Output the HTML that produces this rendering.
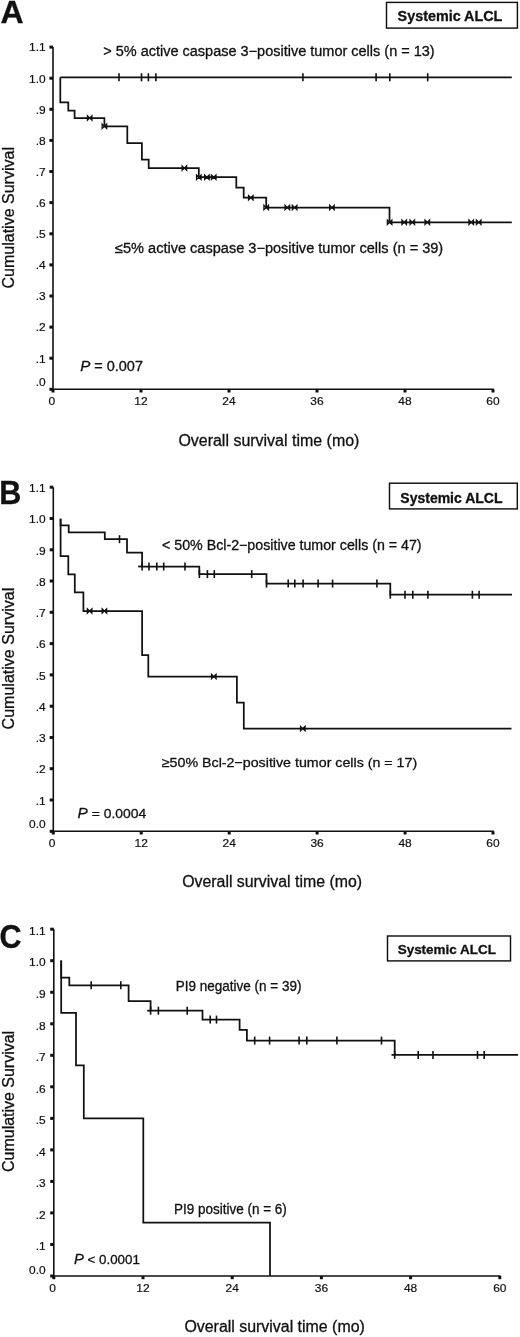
<!DOCTYPE html>
<html><head><meta charset="utf-8"><title>Kaplan-Meier survival curves</title>
<style>
html,body{margin:0;padding:0;background:#fff;}
body{width:520px;height:1337px;overflow:hidden;}
svg{display:block;will-change:transform;}
text{font-family:"Liberation Sans", sans-serif;fill:#111;stroke:#111;stroke-width:0.3px;}
</style></head>
<body>
<svg width="520" height="1337" viewBox="0 0 520 1337">
<rect width="520" height="1337" fill="#fff"/>
<text transform="translate(0.6,22.8) scale(1.0,1.0)" font-size="32" font-weight="bold">A</text>
<rect x="386.5" y="2.4" width="130.89999999999998" height="25.700000000000003" fill="none" stroke="#111" stroke-width="1.45"/>
<text x="397.6" y="21.4" font-size="14.6" font-weight="bold" text-anchor="start" textLength="104.8" lengthAdjust="spacingAndGlyphs" >Systemic ALCL</text>
<line x1="53.0" y1="47.1" x2="53.0" y2="389.3" stroke="#111" stroke-width="1.6"/>
<line x1="52.2" y1="389.3" x2="493.8" y2="389.3" stroke="#111" stroke-width="1.6"/>
<rect x="49.4" y="45.6" width="3.6" height="3.0" fill="#111"/>
<text transform="translate(45.6,51.4) scale(1.03,1)" font-size="11.6" text-anchor="end" style="stroke-width:0.2px">1.1</text>
<rect x="49.4" y="76.7" width="3.6" height="3.0" fill="#111"/>
<text transform="translate(45.6,82.5) scale(1.03,1)" font-size="11.6" text-anchor="end" style="stroke-width:0.2px">1.0</text>
<rect x="49.4" y="107.8" width="3.6" height="3.0" fill="#111"/>
<text transform="translate(45.6,113.6) scale(1.03,1)" font-size="11.6" text-anchor="end" style="stroke-width:0.2px">.9</text>
<rect x="49.4" y="138.9" width="3.6" height="3.0" fill="#111"/>
<text transform="translate(45.6,144.7) scale(1.03,1)" font-size="11.6" text-anchor="end" style="stroke-width:0.2px">.8</text>
<rect x="49.4" y="170.0" width="3.6" height="3.0" fill="#111"/>
<text transform="translate(45.6,175.8) scale(1.03,1)" font-size="11.6" text-anchor="end" style="stroke-width:0.2px">.7</text>
<rect x="49.4" y="201.1" width="3.6" height="3.0" fill="#111"/>
<text transform="translate(45.6,206.9) scale(1.03,1)" font-size="11.6" text-anchor="end" style="stroke-width:0.2px">.6</text>
<rect x="49.4" y="232.3" width="3.6" height="3.0" fill="#111"/>
<text transform="translate(45.6,238.1) scale(1.03,1)" font-size="11.6" text-anchor="end" style="stroke-width:0.2px">.5</text>
<rect x="49.4" y="263.4" width="3.6" height="3.0" fill="#111"/>
<text transform="translate(45.6,269.2) scale(1.03,1)" font-size="11.6" text-anchor="end" style="stroke-width:0.2px">.4</text>
<rect x="49.4" y="294.5" width="3.6" height="3.0" fill="#111"/>
<text transform="translate(45.6,300.3) scale(1.03,1)" font-size="11.6" text-anchor="end" style="stroke-width:0.2px">.3</text>
<rect x="49.4" y="325.6" width="3.6" height="3.0" fill="#111"/>
<text transform="translate(45.6,331.4) scale(1.03,1)" font-size="11.6" text-anchor="end" style="stroke-width:0.2px">.2</text>
<rect x="49.4" y="356.7" width="3.6" height="3.0" fill="#111"/>
<text transform="translate(45.6,362.5) scale(1.03,1)" font-size="11.6" text-anchor="end" style="stroke-width:0.2px">.1</text>
<rect x="49.4" y="387.8" width="3.6" height="3.0" fill="#111"/>
<text transform="translate(45.6,385.6) scale(1.03,1)" font-size="11.6" text-anchor="end" style="stroke-width:0.2px">.0</text>
<rect x="51.5" y="389.3" width="3" height="3.2" fill="#111"/>
<text transform="translate(51.8,404.7) scale(1.03,1)" font-size="11.6" text-anchor="middle" style="stroke-width:0.2px">0</text>
<rect x="139.5" y="389.3" width="3" height="3.2" fill="#111"/>
<text transform="translate(141.0,404.7) scale(1.03,1)" font-size="11.6" text-anchor="middle" style="stroke-width:0.2px">12</text>
<rect x="227.5" y="389.3" width="3" height="3.2" fill="#111"/>
<text transform="translate(229.0,404.7) scale(1.03,1)" font-size="11.6" text-anchor="middle" style="stroke-width:0.2px">24</text>
<rect x="315.5" y="389.3" width="3" height="3.2" fill="#111"/>
<text transform="translate(317.0,404.7) scale(1.03,1)" font-size="11.6" text-anchor="middle" style="stroke-width:0.2px">36</text>
<rect x="403.5" y="389.3" width="3" height="3.2" fill="#111"/>
<text transform="translate(405.0,404.7) scale(1.03,1)" font-size="11.6" text-anchor="middle" style="stroke-width:0.2px">48</text>
<rect x="491.5" y="389.3" width="3" height="3.2" fill="#111"/>
<text transform="translate(493.0,404.7) scale(1.03,1)" font-size="11.6" text-anchor="middle" style="stroke-width:0.2px">60</text>
<text x="0" y="0" font-size="16" text-anchor="middle" textLength="141.5" lengthAdjust="spacingAndGlyphs" transform="translate(13.6,217.8) rotate(-90)">Cumulative Survival</text>
<text x="178.4" y="445.6" font-size="16" font-weight="normal" text-anchor="start" textLength="181.0" lengthAdjust="spacingAndGlyphs" >Overall survival time (mo)</text>
<text x="80.2" y="371.3" font-size="14" font-weight="normal" text-anchor="start" textLength="62.8" lengthAdjust="spacingAndGlyphs" ><tspan font-style="italic" font-size="14.6">P</tspan> = 0.007</text>
<text x="103.2" y="55.8" font-size="14" font-weight="normal" text-anchor="start" textLength="331.5" lengthAdjust="spacingAndGlyphs" >&gt; 5% active caspase 3&#8722;positive tumor cells (n = 13)</text>
<text x="115.0" y="253.0" font-size="14" font-weight="normal" text-anchor="start" textLength="328.2" lengthAdjust="spacingAndGlyphs" >&#8804;5% active caspase 3&#8722;positive tumor cells (n = 39)</text>
<path d="M60.3,77.3 L511.8,77.3" fill="none" stroke="#111" stroke-width="1.75" stroke-linejoin="miter" stroke-linecap="butt"/>
<line x1="119.0" y1="73.3" x2="119.0" y2="81.3" stroke="#111" stroke-width="1.6"/>
<line x1="141.5" y1="73.3" x2="141.5" y2="81.3" stroke="#111" stroke-width="1.6"/>
<line x1="148.4" y1="73.3" x2="148.4" y2="81.3" stroke="#111" stroke-width="1.6"/>
<line x1="155.9" y1="73.3" x2="155.9" y2="81.3" stroke="#111" stroke-width="1.6"/>
<line x1="302.9" y1="73.3" x2="302.9" y2="81.3" stroke="#111" stroke-width="1.6"/>
<line x1="376.1" y1="73.3" x2="376.1" y2="81.3" stroke="#111" stroke-width="1.6"/>
<line x1="389.8" y1="73.3" x2="389.8" y2="81.3" stroke="#111" stroke-width="1.6"/>
<line x1="427.7" y1="73.3" x2="427.7" y2="81.3" stroke="#111" stroke-width="1.6"/>
<path d="M60.3,77.3 L60.3,102.3 L68.3,102.3 L68.3,110.6 L74.6,110.6 L74.6,118.0 L104.4,118.0 L104.4,126.3 L127.3,126.3 L127.3,143.0 L141.9,143.0 L141.9,159.6 L148.7,159.6 L148.7,168.1 L198.8,168.1 L198.8,177.2 L236.3,177.2 L236.3,187.5 L243.7,187.5 L243.7,197.7 L266.2,197.7 L266.2,207.5 L389.5,207.5 L389.5,222.3 L511.8,222.3" fill="none" stroke="#111" stroke-width="1.75" stroke-linejoin="miter" stroke-linecap="butt"/>
<path d="M87.4,115.7 L92.0,120.3 L92.0,115.7 L87.4,120.3 Z" stroke="#111" stroke-width="1.2" fill="#111" fill-opacity="0.35" stroke-linejoin="miter"/>
<path d="M102.1,124.0 L106.7,128.6 L106.7,124.0 L102.1,128.6 Z" stroke="#111" stroke-width="1.2" fill="#111" fill-opacity="0.35" stroke-linejoin="miter"/>
<path d="M182.1,165.8 L186.7,170.4 L186.7,165.8 L182.1,170.4 Z" stroke="#111" stroke-width="1.2" fill="#111" fill-opacity="0.35" stroke-linejoin="miter"/>
<path d="M196.5,174.9 L201.1,179.5 L201.1,174.9 L196.5,179.5 Z" stroke="#111" stroke-width="1.2" fill="#111" fill-opacity="0.35" stroke-linejoin="miter"/>
<path d="M204.6,174.9 L209.2,179.5 L209.2,174.9 L204.6,179.5 Z" stroke="#111" stroke-width="1.2" fill="#111" fill-opacity="0.35" stroke-linejoin="miter"/>
<path d="M211.4,174.9 L216.0,179.5 L216.0,174.9 L211.4,179.5 Z" stroke="#111" stroke-width="1.2" fill="#111" fill-opacity="0.35" stroke-linejoin="miter"/>
<path d="M248.5,195.4 L253.1,200.0 L253.1,195.4 L248.5,200.0 Z" stroke="#111" stroke-width="1.2" fill="#111" fill-opacity="0.35" stroke-linejoin="miter"/>
<path d="M263.9,205.2 L268.5,209.8 L268.5,205.2 L263.9,209.8 Z" stroke="#111" stroke-width="1.2" fill="#111" fill-opacity="0.35" stroke-linejoin="miter"/>
<path d="M285.0,205.2 L289.6,209.8 L289.6,205.2 L285.0,209.8 Z" stroke="#111" stroke-width="1.2" fill="#111" fill-opacity="0.35" stroke-linejoin="miter"/>
<path d="M292.3,205.2 L296.9,209.8 L296.9,205.2 L292.3,209.8 Z" stroke="#111" stroke-width="1.2" fill="#111" fill-opacity="0.35" stroke-linejoin="miter"/>
<path d="M329.6,205.2 L334.2,209.8 L334.2,205.2 L329.6,209.8 Z" stroke="#111" stroke-width="1.2" fill="#111" fill-opacity="0.35" stroke-linejoin="miter"/>
<path d="M387.3,220.0 L391.9,224.6 L391.9,220.0 L387.3,224.6 Z" stroke="#111" stroke-width="1.2" fill="#111" fill-opacity="0.35" stroke-linejoin="miter"/>
<path d="M401.9,220.0 L406.5,224.6 L406.5,220.0 L401.9,224.6 Z" stroke="#111" stroke-width="1.2" fill="#111" fill-opacity="0.35" stroke-linejoin="miter"/>
<path d="M410.0,220.0 L414.6,224.6 L414.6,220.0 L410.0,224.6 Z" stroke="#111" stroke-width="1.2" fill="#111" fill-opacity="0.35" stroke-linejoin="miter"/>
<path d="M425.0,220.0 L429.6,224.6 L429.6,220.0 L425.0,224.6 Z" stroke="#111" stroke-width="1.2" fill="#111" fill-opacity="0.35" stroke-linejoin="miter"/>
<path d="M468.9,220.0 L473.5,224.6 L473.5,220.0 L468.9,224.6 Z" stroke="#111" stroke-width="1.2" fill="#111" fill-opacity="0.35" stroke-linejoin="miter"/>
<path d="M476.4,220.0 L481.0,224.6 L481.0,220.0 L476.4,224.6 Z" stroke="#111" stroke-width="1.2" fill="#111" fill-opacity="0.35" stroke-linejoin="miter"/>
<text transform="translate(-0.8,503.5) scale(1.02,1.085)" font-size="30" font-weight="bold">B</text>
<rect x="389.5" y="483.2" width="127.79999999999995" height="25.69999999999999" fill="none" stroke="#111" stroke-width="1.45"/>
<text x="400.3" y="502.7" font-size="14.2" font-weight="bold" text-anchor="start" textLength="102.2" lengthAdjust="spacingAndGlyphs" >Systemic ALCL</text>
<line x1="53.3" y1="487.2" x2="53.3" y2="831.3" stroke="#111" stroke-width="1.6"/>
<line x1="52.5" y1="831.3" x2="493.8" y2="831.3" stroke="#111" stroke-width="1.6"/>
<rect x="49.7" y="485.7" width="3.6" height="3.0" fill="#111"/>
<text transform="translate(45.6,491.9) scale(1.03,1)" font-size="11.6" text-anchor="end" style="stroke-width:0.2px">1.1</text>
<rect x="49.7" y="517.0" width="3.6" height="3.0" fill="#111"/>
<text transform="translate(45.6,523.2) scale(1.03,1)" font-size="11.6" text-anchor="end" style="stroke-width:0.2px">1.0</text>
<rect x="49.7" y="548.3" width="3.6" height="3.0" fill="#111"/>
<text transform="translate(45.6,554.5) scale(1.03,1)" font-size="11.6" text-anchor="end" style="stroke-width:0.2px">.9</text>
<rect x="49.7" y="579.5" width="3.6" height="3.0" fill="#111"/>
<text transform="translate(45.6,585.7) scale(1.03,1)" font-size="11.6" text-anchor="end" style="stroke-width:0.2px">.8</text>
<rect x="49.7" y="610.8" width="3.6" height="3.0" fill="#111"/>
<text transform="translate(45.6,617.0) scale(1.03,1)" font-size="11.6" text-anchor="end" style="stroke-width:0.2px">.7</text>
<rect x="49.7" y="642.1" width="3.6" height="3.0" fill="#111"/>
<text transform="translate(45.6,648.3) scale(1.03,1)" font-size="11.6" text-anchor="end" style="stroke-width:0.2px">.6</text>
<rect x="49.7" y="673.4" width="3.6" height="3.0" fill="#111"/>
<text transform="translate(45.6,679.6) scale(1.03,1)" font-size="11.6" text-anchor="end" style="stroke-width:0.2px">.5</text>
<rect x="49.7" y="704.7" width="3.6" height="3.0" fill="#111"/>
<text transform="translate(45.6,710.9) scale(1.03,1)" font-size="11.6" text-anchor="end" style="stroke-width:0.2px">.4</text>
<rect x="49.7" y="736.0" width="3.6" height="3.0" fill="#111"/>
<text transform="translate(45.6,742.2) scale(1.03,1)" font-size="11.6" text-anchor="end" style="stroke-width:0.2px">.3</text>
<rect x="49.7" y="767.2" width="3.6" height="3.0" fill="#111"/>
<text transform="translate(45.6,773.4) scale(1.03,1)" font-size="11.6" text-anchor="end" style="stroke-width:0.2px">.2</text>
<rect x="49.7" y="798.5" width="3.6" height="3.0" fill="#111"/>
<text transform="translate(45.6,804.7) scale(1.03,1)" font-size="11.6" text-anchor="end" style="stroke-width:0.2px">.1</text>
<rect x="49.7" y="829.8" width="3.6" height="3.0" fill="#111"/>
<text transform="translate(45.6,828.0) scale(1.03,1)" font-size="11.6" text-anchor="end" style="stroke-width:0.2px">0.0</text>
<rect x="51.8" y="831.3" width="3" height="3.2" fill="#111"/>
<text transform="translate(52.1,846.9) scale(1.03,1)" font-size="11.6" text-anchor="middle" style="stroke-width:0.2px">0</text>
<rect x="139.7" y="831.3" width="3" height="3.2" fill="#111"/>
<text transform="translate(141.2,846.9) scale(1.03,1)" font-size="11.6" text-anchor="middle" style="stroke-width:0.2px">12</text>
<rect x="227.7" y="831.3" width="3" height="3.2" fill="#111"/>
<text transform="translate(229.2,846.9) scale(1.03,1)" font-size="11.6" text-anchor="middle" style="stroke-width:0.2px">24</text>
<rect x="315.6" y="831.3" width="3" height="3.2" fill="#111"/>
<text transform="translate(317.1,846.9) scale(1.03,1)" font-size="11.6" text-anchor="middle" style="stroke-width:0.2px">36</text>
<rect x="403.6" y="831.3" width="3" height="3.2" fill="#111"/>
<text transform="translate(405.1,846.9) scale(1.03,1)" font-size="11.6" text-anchor="middle" style="stroke-width:0.2px">48</text>
<rect x="491.5" y="831.3" width="3" height="3.2" fill="#111"/>
<text transform="translate(493.0,846.9) scale(1.03,1)" font-size="11.6" text-anchor="middle" style="stroke-width:0.2px">60</text>
<text x="0" y="0" font-size="16" text-anchor="middle" textLength="141.6" lengthAdjust="spacingAndGlyphs" transform="translate(13.7,658.6) rotate(-90)">Cumulative Survival</text>
<text x="182.2" y="887.4" font-size="16" font-weight="normal" text-anchor="start" textLength="179.8" lengthAdjust="spacingAndGlyphs" >Overall survival time (mo)</text>
<text x="77.6" y="818.2" font-size="13.2" font-weight="normal" text-anchor="start" textLength="68.6" lengthAdjust="spacingAndGlyphs" ><tspan font-style="italic" font-size="14.6">P</tspan> = 0.0004</text>
<text x="162.0" y="549.5" font-size="14" font-weight="normal" text-anchor="start" textLength="259.6" lengthAdjust="spacingAndGlyphs" >&lt; 50% Bcl-2&#8722;positive tumor cells (n = 47)</text>
<text x="161.8" y="766.6" font-size="13.5" font-weight="normal" text-anchor="start" textLength="255.4" lengthAdjust="spacingAndGlyphs" >&#8805;50% Bcl-2&#8722;positive tumor cells (n = 17)</text>
<path d="M60.6,518.7 L60.6,525.4 L68.7,525.4 L68.7,532.4 L104.8,532.4 L104.8,539.2 L127.0,539.2 L127.0,552.5 L142.1,552.5 L142.1,566.5 L199.3,566.5 L199.3,574.1 L266.5,574.1 L266.5,583.6 L390.3,583.6 L390.3,594.7 L512.0,594.7" fill="none" stroke="#111" stroke-width="1.75" stroke-linejoin="miter" stroke-linecap="butt"/>
<path d="M138.1,566.5 L142.1,566.5" fill="none" stroke="#111" stroke-width="1.75" stroke-linejoin="miter" stroke-linecap="butt"/>
<line x1="119.5" y1="535.2" x2="119.5" y2="543.2" stroke="#111" stroke-width="1.6"/>
<line x1="142.1" y1="562.5" x2="142.1" y2="570.5" stroke="#111" stroke-width="1.6"/>
<line x1="149.0" y1="562.5" x2="149.0" y2="570.5" stroke="#111" stroke-width="1.6"/>
<line x1="156.8" y1="562.5" x2="156.8" y2="570.5" stroke="#111" stroke-width="1.6"/>
<line x1="163.7" y1="562.5" x2="163.7" y2="570.5" stroke="#111" stroke-width="1.6"/>
<line x1="185.0" y1="562.5" x2="185.0" y2="570.5" stroke="#111" stroke-width="1.6"/>
<line x1="199.4" y1="570.1" x2="199.4" y2="578.1" stroke="#111" stroke-width="1.6"/>
<line x1="207.4" y1="570.1" x2="207.4" y2="578.1" stroke="#111" stroke-width="1.6"/>
<line x1="214.3" y1="570.1" x2="214.3" y2="578.1" stroke="#111" stroke-width="1.6"/>
<line x1="251.7" y1="570.1" x2="251.7" y2="578.1" stroke="#111" stroke-width="1.6"/>
<line x1="266.5" y1="579.6" x2="266.5" y2="587.6" stroke="#111" stroke-width="1.6"/>
<line x1="288.2" y1="579.6" x2="288.2" y2="587.6" stroke="#111" stroke-width="1.6"/>
<line x1="294.8" y1="579.6" x2="294.8" y2="587.6" stroke="#111" stroke-width="1.6"/>
<line x1="303.1" y1="579.6" x2="303.1" y2="587.6" stroke="#111" stroke-width="1.6"/>
<line x1="318.1" y1="579.6" x2="318.1" y2="587.6" stroke="#111" stroke-width="1.6"/>
<line x1="332.6" y1="579.6" x2="332.6" y2="587.6" stroke="#111" stroke-width="1.6"/>
<line x1="376.9" y1="579.6" x2="376.9" y2="587.6" stroke="#111" stroke-width="1.6"/>
<line x1="390.3" y1="590.7" x2="390.3" y2="598.7" stroke="#111" stroke-width="1.6"/>
<line x1="405.0" y1="590.7" x2="405.0" y2="598.7" stroke="#111" stroke-width="1.6"/>
<line x1="412.8" y1="590.7" x2="412.8" y2="598.7" stroke="#111" stroke-width="1.6"/>
<line x1="427.9" y1="590.7" x2="427.9" y2="598.7" stroke="#111" stroke-width="1.6"/>
<line x1="472.4" y1="590.7" x2="472.4" y2="598.7" stroke="#111" stroke-width="1.6"/>
<line x1="479.1" y1="590.7" x2="479.1" y2="598.7" stroke="#111" stroke-width="1.6"/>
<path d="M60.6,518.7 L60.6,556.2 L68.3,556.2 L68.3,574.4 L74.8,574.4 L74.8,592.3 L83.4,592.3 L83.4,611.0 L142.1,611.0 L142.1,655.0 L148.3,655.0 L148.3,676.5 L236.9,676.5 L236.9,702.7 L243.8,702.7 L243.8,728.6 L511.5,728.6" fill="none" stroke="#111" stroke-width="1.75" stroke-linejoin="miter" stroke-linecap="butt"/>
<path d="M87.3,608.7 L91.9,613.3 L91.9,608.7 L87.3,613.3 Z" stroke="#111" stroke-width="1.2" fill="#111" fill-opacity="0.35" stroke-linejoin="miter"/>
<path d="M102.1,608.7 L106.7,613.3 L106.7,608.7 L102.1,613.3 Z" stroke="#111" stroke-width="1.2" fill="#111" fill-opacity="0.35" stroke-linejoin="miter"/>
<path d="M211.5,674.2 L216.1,678.8 L216.1,674.2 L211.5,678.8 Z" stroke="#111" stroke-width="1.2" fill="#111" fill-opacity="0.35" stroke-linejoin="miter"/>
<path d="M300.5,726.3 L305.1,730.9 L305.1,726.3 L300.5,730.9 Z" stroke="#111" stroke-width="1.2" fill="#111" fill-opacity="0.35" stroke-linejoin="miter"/>
<text transform="translate(-0.6,947.6) scale(1.0,1.08)" font-size="30.5" font-weight="bold">C</text>
<rect x="387.5" y="936.0" width="123.0" height="24.899999999999977" fill="none" stroke="#111" stroke-width="1.45"/>
<text x="397.7" y="954.0" font-size="13" font-weight="bold" text-anchor="start" textLength="98.2" lengthAdjust="spacingAndGlyphs" >Systemic ALCL</text>
<line x1="53.8" y1="929.2" x2="53.8" y2="1276.0" stroke="#111" stroke-width="1.6"/>
<line x1="53.0" y1="1276.0" x2="500.6" y2="1276.0" stroke="#111" stroke-width="1.6"/>
<rect x="50.2" y="927.7" width="3.6" height="3.0" fill="#111"/>
<text transform="translate(45.6,934.9) scale(1.03,1)" font-size="11.6" text-anchor="end" style="stroke-width:0.2px">1.1</text>
<rect x="50.2" y="959.2" width="3.6" height="3.0" fill="#111"/>
<text transform="translate(45.6,966.4) scale(1.03,1)" font-size="11.6" text-anchor="end" style="stroke-width:0.2px">1.0</text>
<rect x="50.2" y="990.8" width="3.6" height="3.0" fill="#111"/>
<text transform="translate(45.6,998.0) scale(1.03,1)" font-size="11.6" text-anchor="end" style="stroke-width:0.2px">.9</text>
<rect x="50.2" y="1022.3" width="3.6" height="3.0" fill="#111"/>
<text transform="translate(45.6,1029.5) scale(1.03,1)" font-size="11.6" text-anchor="end" style="stroke-width:0.2px">.8</text>
<rect x="50.2" y="1053.8" width="3.6" height="3.0" fill="#111"/>
<text transform="translate(45.6,1061.0) scale(1.03,1)" font-size="11.6" text-anchor="end" style="stroke-width:0.2px">.7</text>
<rect x="50.2" y="1085.3" width="3.6" height="3.0" fill="#111"/>
<text transform="translate(45.6,1092.5) scale(1.03,1)" font-size="11.6" text-anchor="end" style="stroke-width:0.2px">.6</text>
<rect x="50.2" y="1116.9" width="3.6" height="3.0" fill="#111"/>
<text transform="translate(45.6,1124.1) scale(1.03,1)" font-size="11.6" text-anchor="end" style="stroke-width:0.2px">.5</text>
<rect x="50.2" y="1148.4" width="3.6" height="3.0" fill="#111"/>
<text transform="translate(45.6,1155.6) scale(1.03,1)" font-size="11.6" text-anchor="end" style="stroke-width:0.2px">.4</text>
<rect x="50.2" y="1179.9" width="3.6" height="3.0" fill="#111"/>
<text transform="translate(45.6,1187.1) scale(1.03,1)" font-size="11.6" text-anchor="end" style="stroke-width:0.2px">.3</text>
<rect x="50.2" y="1211.4" width="3.6" height="3.0" fill="#111"/>
<text transform="translate(45.6,1218.6) scale(1.03,1)" font-size="11.6" text-anchor="end" style="stroke-width:0.2px">.2</text>
<rect x="50.2" y="1243.0" width="3.6" height="3.0" fill="#111"/>
<text transform="translate(45.6,1250.2) scale(1.03,1)" font-size="11.6" text-anchor="end" style="stroke-width:0.2px">.1</text>
<rect x="50.2" y="1274.5" width="3.6" height="3.0" fill="#111"/>
<text transform="translate(45.6,1273.7) scale(1.03,1)" font-size="11.6" text-anchor="end" style="stroke-width:0.2px">0.0</text>
<rect x="52.3" y="1276.0" width="3" height="3.2" fill="#111"/>
<text transform="translate(52.6,1292.3) scale(1.03,1)" font-size="11.6" text-anchor="middle" style="stroke-width:0.2px">0</text>
<rect x="141.5" y="1276.0" width="3" height="3.2" fill="#111"/>
<text transform="translate(143.0,1292.3) scale(1.03,1)" font-size="11.6" text-anchor="middle" style="stroke-width:0.2px">12</text>
<rect x="230.7" y="1276.0" width="3" height="3.2" fill="#111"/>
<text transform="translate(232.2,1292.3) scale(1.03,1)" font-size="11.6" text-anchor="middle" style="stroke-width:0.2px">24</text>
<rect x="319.9" y="1276.0" width="3" height="3.2" fill="#111"/>
<text transform="translate(321.4,1292.3) scale(1.03,1)" font-size="11.6" text-anchor="middle" style="stroke-width:0.2px">36</text>
<rect x="409.1" y="1276.0" width="3" height="3.2" fill="#111"/>
<text transform="translate(410.6,1292.3) scale(1.03,1)" font-size="11.6" text-anchor="middle" style="stroke-width:0.2px">48</text>
<rect x="498.3" y="1276.0" width="3" height="3.2" fill="#111"/>
<text transform="translate(499.8,1292.3) scale(1.03,1)" font-size="11.6" text-anchor="middle" style="stroke-width:0.2px">60</text>
<text x="0" y="0" font-size="16" text-anchor="middle" textLength="141.0" lengthAdjust="spacingAndGlyphs" transform="translate(13.7,1101.4) rotate(-90)">Cumulative Survival</text>
<text x="184.4" y="1332.4" font-size="16" font-weight="normal" text-anchor="start" textLength="180.4" lengthAdjust="spacingAndGlyphs" >Overall survival time (mo)</text>
<text x="73.9" y="1263.9" font-size="13.2" font-weight="normal" text-anchor="start" textLength="66.0" lengthAdjust="spacingAndGlyphs" ><tspan font-style="italic" font-size="14.6">P</tspan> &lt; 0.0001</text>
<text x="175.8" y="990.6" font-size="13.9" font-weight="normal" text-anchor="start" textLength="125.7" lengthAdjust="spacingAndGlyphs" >PI9 negative (n = 39)</text>
<text x="174.0" y="1214.2" font-size="14" font-weight="normal" text-anchor="start" textLength="112.8" lengthAdjust="spacingAndGlyphs" >PI9 positive (n = 6)</text>
<path d="M61.2,960.4 L61.2,977.5 L69.3,977.5 L69.3,985.3 L128.6,985.3 L128.6,1001.2 L150.6,1001.2 L150.6,1010.7 L202.5,1010.7 L202.5,1019.6 L239.6,1019.6 L239.6,1029.8 L246.9,1029.8 L246.9,1040.6 L394.7,1040.6 L394.7,1054.9 L518.0,1054.9" fill="none" stroke="#111" stroke-width="1.75" stroke-linejoin="miter" stroke-linecap="butt"/>
<path d="M147.2,1010.7 L150.6,1010.7" fill="none" stroke="#111" stroke-width="1.75" stroke-linejoin="miter" stroke-linecap="butt"/>
<path d="M391.5,1054.9 L394.7,1054.9" fill="none" stroke="#111" stroke-width="1.75" stroke-linejoin="miter" stroke-linecap="butt"/>
<line x1="91.2" y1="981.3" x2="91.2" y2="989.3" stroke="#111" stroke-width="1.6"/>
<line x1="120.8" y1="981.3" x2="120.8" y2="989.3" stroke="#111" stroke-width="1.6"/>
<line x1="150.6" y1="1006.7" x2="150.6" y2="1014.7" stroke="#111" stroke-width="1.6"/>
<line x1="158.4" y1="1006.7" x2="158.4" y2="1014.7" stroke="#111" stroke-width="1.6"/>
<line x1="187.2" y1="1006.7" x2="187.2" y2="1014.7" stroke="#111" stroke-width="1.6"/>
<line x1="210.2" y1="1015.6" x2="210.2" y2="1023.6" stroke="#111" stroke-width="1.6"/>
<line x1="216.5" y1="1015.6" x2="216.5" y2="1023.6" stroke="#111" stroke-width="1.6"/>
<line x1="254.7" y1="1036.6" x2="254.7" y2="1044.6" stroke="#111" stroke-width="1.6"/>
<line x1="269.6" y1="1036.6" x2="269.6" y2="1044.6" stroke="#111" stroke-width="1.6"/>
<line x1="299.1" y1="1036.6" x2="299.1" y2="1044.6" stroke="#111" stroke-width="1.6"/>
<line x1="306.8" y1="1036.6" x2="306.8" y2="1044.6" stroke="#111" stroke-width="1.6"/>
<line x1="336.9" y1="1036.6" x2="336.9" y2="1044.6" stroke="#111" stroke-width="1.6"/>
<line x1="381.5" y1="1036.6" x2="381.5" y2="1044.6" stroke="#111" stroke-width="1.6"/>
<line x1="394.7" y1="1050.9" x2="394.7" y2="1058.9" stroke="#111" stroke-width="1.6"/>
<line x1="418.2" y1="1050.9" x2="418.2" y2="1058.9" stroke="#111" stroke-width="1.6"/>
<line x1="433.0" y1="1050.9" x2="433.0" y2="1058.9" stroke="#111" stroke-width="1.6"/>
<line x1="477.5" y1="1050.9" x2="477.5" y2="1058.9" stroke="#111" stroke-width="1.6"/>
<line x1="484.2" y1="1050.9" x2="484.2" y2="1058.9" stroke="#111" stroke-width="1.6"/>
<path d="M61.2,960.4 L61.2,1012.9 L76.0,1012.9 L76.0,1065.4 L83.8,1065.4 L83.8,1118.3 L143.3,1118.3 L143.3,1222.6 L270.0,1222.6 L270.0,1276.0" fill="none" stroke="#111" stroke-width="1.75" stroke-linejoin="miter" stroke-linecap="butt"/>
</svg>
</body></html>
